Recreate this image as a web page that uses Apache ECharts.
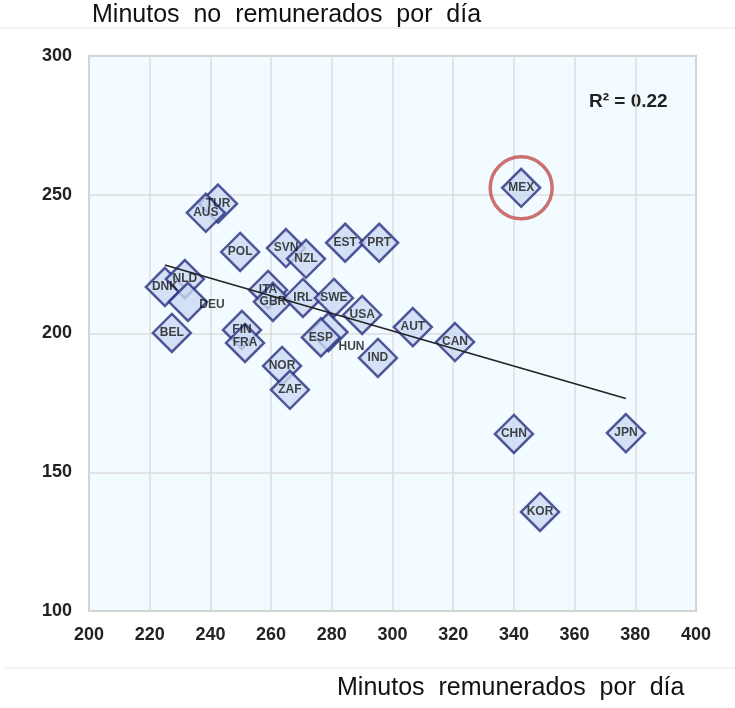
<!DOCTYPE html>
<html>
<head>
<meta charset="utf-8">
<script src="https://cdn.jsdelivr.net/npm/echarts@6/dist/echarts.min.js"></script>
<style>
  html, body { margin: 0; padding: 0; background: #ffffff; }
  #chart { width: 735px; height: 708px; }
</style>
</head>
<body>
<div id="chart"></div>
<script>
// paises y minutos (remunerados, no remunerados)
const countries = ["TUR", "AUS", "POL", "SVN", "NZL", "EST", "PRT", "MEX",
  "DNK", "NLD", "DEU", "ITA", "GBR", "IRL", "SWE", "USA", "AUT", "CAN",
  "BEL", "FIN", "FRA", "HUN", "ESP", "IND", "NOR", "ZAF", "CHN", "JPN", "KOR"];
const paidMin = [242.5, 238.5, 249.8, 264.9, 271.5, 284.4, 295.6, 342.4,
  225.0, 231.6, 232.6, 259.0, 260.6, 270.5, 280.7, 290.0, 306.7, 320.6,
  227.3, 250.4, 251.4, 278.9, 276.4, 295.2, 263.6, 266.2, 340.0, 376.9, 348.6];
const unpaidMin = [246.8, 243.5, 229.4, 230.8, 226.9, 232.7, 232.7, 252.5,
  216.8, 219.6, 211.4, 215.7, 211.4, 212.8, 212.8, 206.7, 202.3, 196.9,
  200.2, 201.3, 196.6, 200.5, 198.6, 191.2, 188.3, 179.7, 163.8, 164.1, 135.7];
// linea de tendencia
const trendX = [225, 376.9];
const trendY = [224.7, 176.6];
const highlight = "MEX";

const xTicks = { min: 200, max: 400, interval: 20 };
const yTicks = { min: 100, max: 300, interval: 50 };

const labelOffsets = { DEU: [24, 3], HUN: [23, 15] };

const pointData = countries.map(function (c, i) {
  const item = { name: c, value: [paidMin[i], unpaidMin[i]] };
  if (labelOffsets[c]) {
    item.label = { offset: labelOffsets[c] };
  }
  return item;
});
const hi = countries.indexOf(highlight);

const chart = echarts.init(document.getElementById("chart"));
chart.setOption({
  animation: false,
  backgroundColor: "#ffffff",
  textStyle: { fontFamily: "Liberation Sans, Arial, sans-serif" },
  grid: {
    left: 89, top: 56, width: 607, height: 555,
    show: true,
    backgroundColor: "#f2fbff",
    borderColor: "#a8a8a8",
    borderWidth: 1.5
  },
  xAxis: {
    type: "value",
    min: xTicks.min, max: xTicks.max, interval: xTicks.interval,
    axisLine: { show: false },
    axisTick: { show: false },
    axisLabel: { color: "#222", fontSize: 18, fontWeight: "bold", margin: 15 },
    splitLine: { lineStyle: { color: "#dcdcdc", width: 1.5 } }
  },
  yAxis: {
    type: "value",
    min: yTicks.min, max: yTicks.max, interval: yTicks.interval,
    axisLine: { show: false },
    axisTick: { show: false },
    axisLabel: { color: "#222", fontSize: 18, fontWeight: "bold", margin: 17 },
    splitLine: { lineStyle: { color: "#dcdcdc", width: 1.5 } }
  },
  graphic: [
    { type: "line", shape: { x1: 0, y1: 28, x2: 735, y2: 28 }, style: { stroke: "#e6e6e6", lineWidth: 1 } },
    { type: "line", shape: { x1: 5, y1: 668, x2: 735, y2: 668 }, style: { stroke: "#e6e6e6", lineWidth: 1 } },
    { type: "text", left: 92, top: 3, style: { text: "Minutos  no  remunerados  por  día", fill: "#111", font: "25px Liberation Sans, Arial, sans-serif" } },
    { type: "text", left: 337, top: 676, style: { text: "Minutos  remunerados  por  día", fill: "#111", font: "25px Liberation Sans, Arial, sans-serif" } },
    { type: "text", left: 589, top: 92, style: { text: "R² = 0.22", fill: "#222", font: "bold 19px Liberation Sans, Arial, sans-serif" } }
  ],
  series: [
    {
      type: "line",
      data: trendX.map(function (x, i) { return [x, trendY[i]]; }),
      symbol: "none",
      lineStyle: { color: "#222", width: 1.5 },
      z: 3
    },
    {
      type: "scatter",
      data: pointData,
      symbol: "diamond",
      symbolSize: 38,
      itemStyle: { color: "#cbd9f3", borderColor: "#2b3080", borderWidth: 2.5 },
      label: {
        show: true,
        position: "inside",
        formatter: "{b}",
        color: "#151515",
        fontSize: 12,
        fontWeight: "bold"
      },
      z: 2
    },
    {
      type: "scatter",
      data: [[paidMin[hi], unpaidMin[hi]]],
      symbol: "circle",
      symbolSize: 62,
      itemStyle: { color: "rgba(0,0,0,0)", borderColor: "#c0504d", borderWidth: 3.5 },
      silent: true,
      z: 4
    }
  ]
});
</script>
</body>
</html>
